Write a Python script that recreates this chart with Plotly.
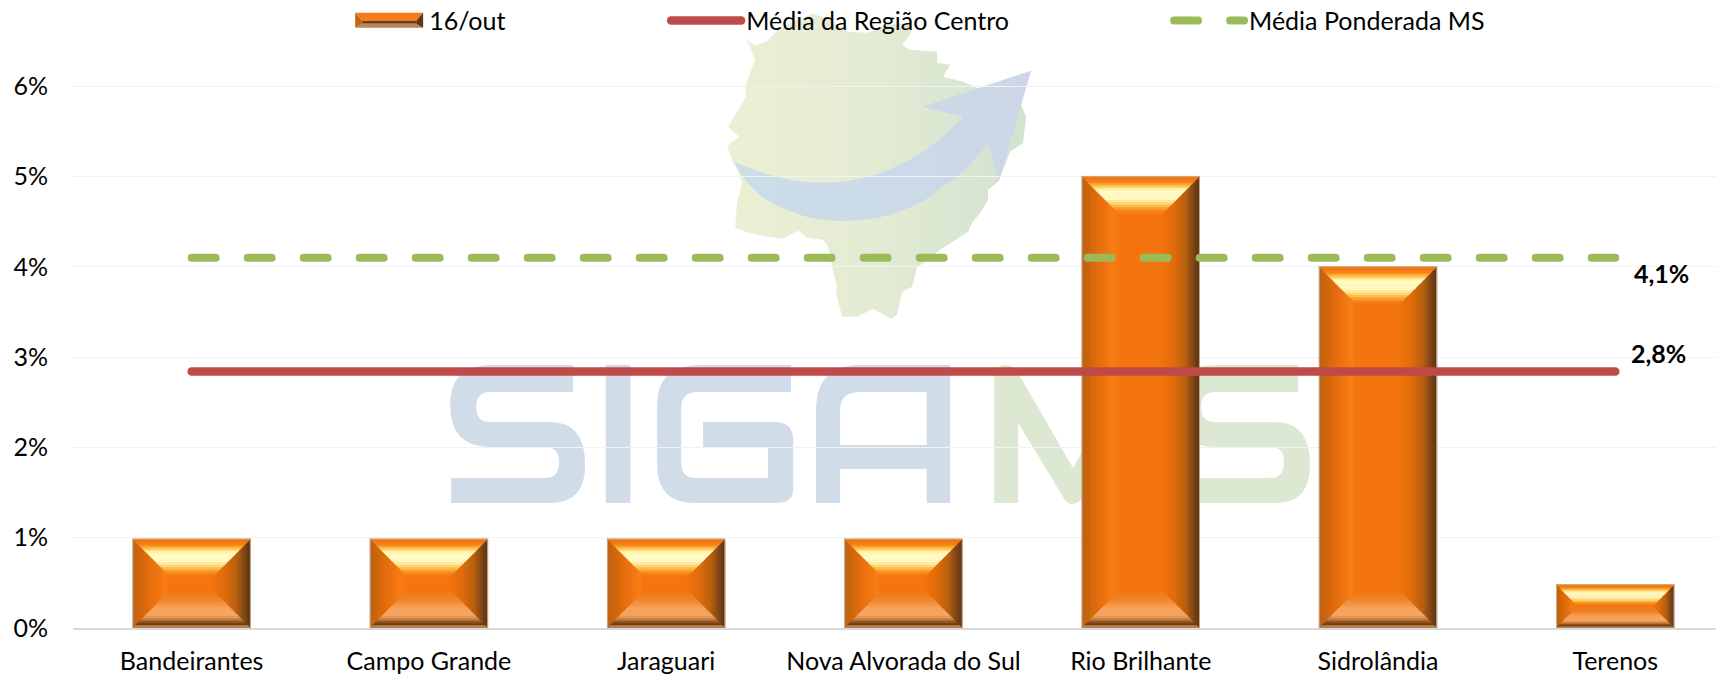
import base64
import plotly.graph_objects as go

# ---- data ----
CATEGORIES = ["Bandeirantes", "Campo Grande", "Jaraguari", "Nova Alvorada do Sul",
              "Rio Brilhante", "Sidrolândia", "Terenos"]
DAILY = [0.985, 0.985, 0.985, 0.985, 5.0, 4.0, 0.48]
REGION_MEAN = [2.84] * 7
WEIGHTED_MEAN = [4.1] * 7
Y_TICKS = [0, 1, 2, 3, 4, 5, 6]
Y_LABELS = ["0%", "1%", "2%", "3%", "4%", "5%", "6%"]
SERIES_NAMES = ["16/out", "Média da Região Centro", "Média Ponderada MS"]
REGION_LABEL = "2,8%"
WEIGHTED_LABEL = "4,1%"

# ---- layout constants ----
W, H = 1716, 675
YUNIT_PX = 90.27
Y_MAX = 6.5
L, R_EDGE, B = 72.8, 1716, 628
T = B - Y_MAX * YUNIT_PX
PW, PH = R_EDGE - L, B - T
STEP_PX = 237.3
BAR_FRAC = 0.495
BEVEL_PX = 38
FONT = "Lato"
FS = 25
positions = list(range(len(CATEGORIES)))
x_range = [-0.5, -0.5 + PW / STEP_PX]


def px(x):
    return (x - L) / PW


def py(y):
    return (B - y) / PH


def hex2rgb(c):
    return tuple(int(c[i:i + 2], 16) for i in (1, 3, 5))


def ramp(stops, n):
    out = []
    for k in range(n):
        t = (k + 0.5) / n
        for (a, ca), (b, cb) in zip(stops, stops[1:]):
            if a <= t <= b:
                f = (t - a) / (b - a)
                A, Bc = hex2rgb(ca), hex2rgb(cb)
                out.append("rgb(%d,%d,%d)" % tuple(A[i] + (Bc[i] - A[i]) * f for i in range(3)))
                break
    return out


TOP = [(0, "#EE7716"), (.14, "#F57A12"), (.27, "#FFC850"), (.36, "#FFFBC0"), (.6, "#FFFBC8"),
       (.72, "#FFD870"), (.88, "#F89020"), (1, "#F4740F")]
BOTTOM = [(0, "#F4740F"), (.25, "#F0852A"), (.5, "#F8A45F"), (.68, "#F6A767"), (.78, "#C9803F"),
          (.9, "#663710"), (.96, "#A8713C"), (1, "#E8BE8C")]
LEFT = [(0, "#B5641F"), (.12, "#C7640F"), (.45, "#E66E0E"), (.85, "#FB7E16"), (1, "#F4740F")]
RIGHT = [(0, "#F4740F"), (.35, "#E06C0D"), (.65, "#B5600F"), (.88, "#75421A"), (1, "#5B3513")]
NB = 16

fig = go.Figure()
fig.add_trace(go.Bar(
    x=positions, y=DAILY, width=BAR_FRAC, name=SERIES_NAMES[0],
    marker=dict(color="#F4740F", line=dict(width=0)), legend="legend", hoverinfo="skip"))


def add_band(xs, ys, color):
    fig.add_trace(go.Scatter(x=xs, y=ys, mode="lines", fill="toself", fillcolor=color,
                             line=dict(color=color, width=0.6), showlegend=False, hoverinfo="skip"))


def bevel_polys(side, t0, t1):
    xs, ys = [], []
    for p, v in zip(positions, DAILY):
        hpx = v * YUNIT_PX
        D = min(BEVEL_PX, hpx / 2)
        dx, dy = D / STEP_PX, D / YUNIT_PX
        l, r = p - BAR_FRAC / 2, p + BAR_FRAC / 2
        if side == "top":
            poly = [(l + dx * t0, v - dy * t0), (r - dx * t0, v - dy * t0),
                    (r - dx * t1, v - dy * t1), (l + dx * t1, v - dy * t1)]
        elif side == "bottom":
            poly = [(l + dx * (1 - t1), dy * (1 - t1)), (r - dx * (1 - t1), dy * (1 - t1)),
                    (r - dx * (1 - t0), dy * (1 - t0)), (l + dx * (1 - t0), dy * (1 - t0))]
        elif side == "left":
            poly = [(l + dx * t0, dy * t0), (l + dx * t1, dy * t1),
                    (l + dx * t1, v - dy * t1), (l + dx * t0, v - dy * t0)]
        else:
            poly = [(r - dx * (1 - t0), dy * (1 - t0)), (r - dx * (1 - t1), dy * (1 - t1)),
                    (r - dx * (1 - t1), v - dy * (1 - t1)), (r - dx * (1 - t0), v - dy * (1 - t0))]
        for a, b in poly + poly[:1]:
            xs.append(a)
            ys.append(b)
        xs.append(None)
        ys.append(None)
    return xs, ys


for side, stops in (("left", LEFT), ("right", RIGHT), ("top", TOP), ("bottom", BOTTOM)):
    for k, col in enumerate(ramp(stops, NB)):
        xs, ys = bevel_polys(side, k / NB, (k + 1) / NB)
        add_band(xs, ys, col)

# thin outline of each bar
ox, oy = [], []
for p, v in zip(positions, DAILY):
    l, r = p - BAR_FRAC / 2, p + BAR_FRAC / 2
    ox += [l, l, r, r, None]
    oy += [0, v, v, 0, None]
fig.add_trace(go.Scatter(x=ox, y=oy, mode="lines", line=dict(color="#C9A88A", width=1),
                         showlegend=False, hoverinfo="skip"))

fig.add_trace(go.Scatter(x=positions, y=REGION_MEAN, mode="lines", name=SERIES_NAMES[1],
                         line=dict(color="#BE4B48", width=8.5), legend="legend2", hoverinfo="skip"))
fig.add_trace(go.Scatter(x=positions, y=WEIGHTED_MEAN, mode="lines", name=SERIES_NAMES[2],
                         line=dict(color="#9BBB59", width=8, dash="24px,32px"),
                         legend="legend3", hoverinfo="skip"))

# ---- watermark (logo artwork) as one embedded picture under the gridlines ----
S_PATH = ("M573,365 H490 Q450,365 450,405 Q450,447 490,447 H545 Q559,447 559,462 Q559,478 545,478 "
          "H451 V503 H550 Q585,503 585,465 Q585,422 550,422 H490 Q476,422 476,407 Q476,392 490,392 H573 Z")
svg = f'''<svg xmlns="http://www.w3.org/2000/svg" width="{W}" height="{H}" viewBox="0 0 {W} {H}">
<defs>
<linearGradient id="m" gradientUnits="userSpaceOnUse" x1="728" y1="0" x2="1026" y2="0">
<stop offset="0" stop-color="#EBF0D4"/><stop offset=".5" stop-color="#E3EBD3"/><stop offset="1" stop-color="#D1E2D0"/></linearGradient>
<linearGradient id="a" gradientUnits="userSpaceOnUse" x1="734" y1="0" x2="1030" y2="0">
<stop offset="0" stop-color="#CBDEE8"/><stop offset="1" stop-color="#CCD6E8"/></linearGradient>
</defs>
<path fill="url(#m)" d="M743,31 L747,40 L755,46 L767,41 L778,30 L797,20 L813,14 L830,20 L847,32 L867,33 L887,25 L912,23 L910,35
L902,45 L910,50 L937,52 L937,63 L950,65 L943,77 L963,82 L977,88 L1022,107 L1026,117 L1023,143 L1010,152 L1003,170 L998,182
L988,190 L988,200 L981,212 L972,223 L968,232 L940,250 L917,268 L912,287 L902,292 L897,315 L891,319 L873,309 L857,317 L842,317
L836,293 L837,288 L832,267 L828,247 L823,240 L807,238 L798,231 L782,239 L763,236 L748,233 L735,228 L737,203 L742,183 L737,170
L733,163 L727,146 L739,137 L728,127 L746,97 L745,87 L755,60 Z"/>
<path fill="url(#a)" d="M734,162 Q780,183 823,183 Q870,183 915,157 Q940,142 963,117 L922,107 L1031,71 L999,181 L988,143
Q965,175 942,187 Q925,203 904,210 Q880,220 850,221 Q815,222 795,213 Q765,203 751,187 Q740,175 734,162 Z"/>
<g fill="#D0DCE7">
<path d="{S_PATH}"/>
<rect x="605.6" y="365" width="24.7" height="138"/>
<path d="M791,365 H700 Q657,365 657,405 V465 Q657,503 695,503 H775 Q793,503 793,490 V440 Q793,422 775,422 H703 V447 H768 V478 H695 Q681,478 681,462 V408 Q681,392 697,392 H791 Z"/>
<path fill-rule="evenodd" d="M950,365 H860 Q816,365 816,410 V503 H840 V469 H926.6 V503 H950 Z M840,445 V410 Q840,392 860,392 H926.6 V445 Z"/>
</g>
<g fill="#DDE8D2">
<path d="M994,503 V378 Q996,365 1005,365 Q1014,365 1018,373 L1073,468 L1110,400 L1130,365 L1150,365 V503 H1125 V420 L1085,495 Q1073,510 1065,500 L1018,423 V503 Z"/>
<path transform="translate(725,0)" d="{S_PATH}"/>
</g>
</svg>'''
logo_uri = "data:image/svg+xml;base64," + base64.b64encode(svg.encode()).decode()

# ---- bevelled legend key for the bars ----
key_shapes = []


def key(points, color):
    path = "M" + " L".join(f"{px(a):.5f},{py(b):.5f}" for a, b in points) + " Z"
    key_shapes.append(dict(type="path", path=path, xref="paper", yref="paper", fillcolor=color,
                           line=dict(width=0), layer="above"))


key([(355, 13), (423, 13), (416, 21), (362, 21)], "#F47C1C")
key([(362, 21), (416, 21), (416, 24), (362, 24)], "#6E3D12")
key([(362, 24), (416, 24), (423, 28), (355, 28)], "#B8845A")
key([(355, 13), (362, 21), (362, 24), (355, 28)], "#C4660F")
key([(423, 13), (416, 21), (416, 24), (423, 28)], "#5F3713")

legend_font = dict(family=FONT, size=FS, color="#000000")


def legend_at(x_px, width):
    return dict(x=px(x_px), y=py(21), xanchor="left", yanchor="middle", orientation="h",
                bgcolor="rgba(0,0,0,0)", borderwidth=0, font=legend_font, itemwidth=width,
                itemclick=False, itemdoubleclick=False)


fig.update_layout(
    width=W, height=H, paper_bgcolor="white", plot_bgcolor="rgba(0,0,0,0)",
    margin=dict(l=L, r=W - R_EDGE, t=T, b=H - B, pad=0, autoexpand=False),
    font=dict(family=FONT, size=FS, color="#000000"),
    bargap=0, showlegend=True,
    legend=legend_at(351, 68), legend2=legend_at(666, 70), legend3=legend_at(1169, 70),
    xaxis=dict(range=x_range, tickmode="array", tickvals=positions, ticktext=CATEGORIES,
               showgrid=False, zeroline=False, showline=True, linecolor="#D9D9D9", linewidth=2,
               ticks="", ticklabelstandoff=10, tickfont=dict(family=FONT, size=FS, color="#000000")),
    yaxis=dict(range=[0, Y_MAX], tickmode="array", tickvals=Y_TICKS, ticktext=Y_LABELS,
               showgrid=True, gridcolor="#F2F2F2", gridwidth=1, zeroline=False, showline=False,
               ticks="", ticklabelstandoff=24, tickfont=dict(family=FONT, size=FS, color="#000000")),
    images=[dict(source=logo_uri, xref="paper", yref="paper", x=px(0), y=py(0),
                 sizex=W / PW, sizey=H / PH, xanchor="left", yanchor="top",
                 sizing="stretch", layer="below")],
    shapes=key_shapes,
    annotations=[
        dict(x=positions[-1], y=WEIGHTED_MEAN[-1], xref="x", yref="y", text=f"<b>{WEIGHTED_LABEL}</b>",
             showarrow=False, xanchor="left", yanchor="middle", xshift=17, yshift=-15,
             font=dict(family=FONT, size=FS, color="#000000")),
        dict(x=positions[-1], y=REGION_MEAN[-1], xref="x", yref="y", text=f"<b>{REGION_LABEL}</b>",
             showarrow=False, xanchor="left", yanchor="middle", xshift=14, yshift=19,
             font=dict(family=FONT, size=FS, color="#000000")),
    ],
)

POST = """
document.body.style.margin='0';document.body.style.overflow='hidden';
document.querySelectorAll('.scatterlayer .js-line, .legendlines path').forEach(function(e){e.style.strokeLinecap='round';});
document.querySelectorAll('.legendpoints path').forEach(function(e){e.style.display='none';});
"""
fig.write_html("out.html", post_script=POST, config={"displayModeBar": False})
